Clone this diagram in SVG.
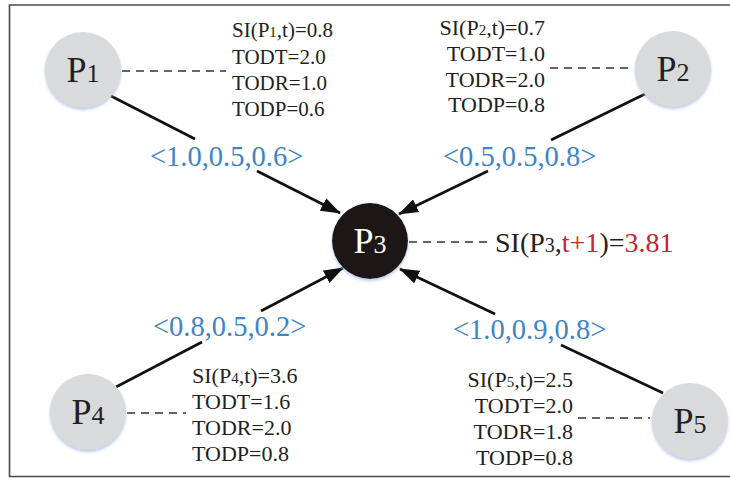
<svg xmlns="http://www.w3.org/2000/svg" width="730" height="479" viewBox="0 0 730 479">
<defs>
<style>
.node{fill:#d9dadc;filter:url(#sh);}
.dark{fill:#1a1718;filter:url(#sh);}
.nl{font-family:"Liberation Serif","Times New Roman",serif;font-size:36px;fill:#231f20;text-anchor:middle;}
.nl tspan{font-size:26px;}
.info{font-family:"Liberation Serif","Times New Roman",serif;font-size:22px;fill:#231f20;}
.info tspan.s{font-size:15px;}
.i1{font-size:21px;}
.el{font-family:"Liberation Serif","Times New Roman",serif;font-size:28.5px;fill:#3d85c6;}
.res{font-family:"Liberation Serif","Times New Roman",serif;font-size:28px;fill:#231f20;}
.red{fill:#c1272d;}
.edge{stroke:#111;stroke-width:2.6;fill:none;}
.dash{stroke:#333;stroke-width:1.3;stroke-dasharray:8 6;fill:none;}
</style>
<filter id="sh" x="-20%" y="-20%" width="140%" height="150%">
<feDropShadow dx="0" dy="2" stdDeviation="1.5" flood-color="#9ab6de" flood-opacity="0.7"/>
</filter>
<marker id="arr" viewBox="0 0 20 14" refX="19" refY="7" markerWidth="20" markerHeight="14" markerUnits="userSpaceOnUse" orient="auto">
<path d="M0,0 L20,7 L0,14 Z" fill="#111"/>
</marker>
</defs>
<rect width="730" height="479" fill="#ffffff"/>
<path d="M740,5 H9.5 V476.5 H740" fill="none" stroke="#4a4a4a" stroke-width="1.6"/>

<g id="connectors">
<line class="edge" x1="111" y1="96" x2="195" y2="139"/>
<line class="edge" x1="257" y1="171" x2="340" y2="213" marker-end="url(#arr)"/>
<line class="edge" x1="647" y1="93" x2="551" y2="140"/>
<line class="edge" x1="488" y1="171" x2="399" y2="214" marker-end="url(#arr)"/>
<line class="edge" x1="116" y1="387" x2="202" y2="342"/>
<line class="edge" x1="261" y1="311" x2="343" y2="268" marker-end="url(#arr)"/>
<line class="edge" x1="663" y1="393" x2="561" y2="345"/>
<line class="edge" x1="495" y1="314" x2="400" y2="269" marker-end="url(#arr)"/>
<line class="dash" x1="122" y1="71" x2="226" y2="71"/>
<line class="dash" x1="550" y1="68" x2="632" y2="68"/>
<line class="dash" x1="409" y1="242" x2="487" y2="242"/>
<line class="dash" x1="127" y1="413" x2="186" y2="413"/>
<line class="dash" x1="578" y1="418" x2="650" y2="418"/>
</g>

<g id="edge-labels">
<text class="el" x="150" y="166">&lt;1.0,0.5,0.6&gt;</text>
<text class="el" x="443" y="166">&lt;0.5,0.5,0.8&gt;</text>
<text class="el" x="153" y="336">&lt;0.8,0.5,0.2&gt;</text>
<text class="el" x="453" y="339">&lt;1.0,0.9,0.8&gt;</text>
</g>

<g id="P1">
<circle class="node" cx="83" cy="70" r="38"/>
<text class="nl" x="83" y="82">P<tspan>1</tspan></text>
<text class="info i1" x="232" y="37">SI(P<tspan class="s">1</tspan>,t)=0.8</text>
<text class="info i1" x="232" y="64">TODT=2.0</text>
<text class="info i1" x="232" y="90">TODR=1.0</text>
<text class="info i1" x="232" y="116">TODP=0.6</text>
</g>

<g id="P2">
<circle class="node" cx="673" cy="69" r="38"/>
<text class="nl" x="673" y="81">P<tspan>2</tspan></text>
<g text-anchor="end">
<text class="info" x="545" y="35">SI(P<tspan class="s">2</tspan>,t)=0.7</text>
<text class="info" x="545" y="61">TODT=1.0</text>
<text class="info" x="545" y="87">TODR=2.0</text>
<text class="info" x="545" y="112">TODP=0.8</text>
</g>
</g>

<g id="P3">
<circle class="dark" cx="370" cy="241" r="38"/>
<text class="nl" x="370" y="253" style="fill:#ffffff">P<tspan>3</tspan></text>
<text class="res" x="495" y="252">SI(P<tspan font-size="20">3</tspan>,<tspan class="red">t+1</tspan>)=<tspan class="red">3.81</tspan></text>
</g>

<g id="P4">
<circle class="node" cx="88" cy="412" r="38"/>
<text class="nl" x="88" y="424">P<tspan>4</tspan></text>
<text class="info" x="192" y="383">SI(P<tspan class="s">4</tspan>,t)=3.6</text>
<text class="info" x="192" y="409">TODT=1.6</text>
<text class="info" x="192" y="435">TODR=2.0</text>
<text class="info" x="192" y="461">TODP=0.8</text>
</g>

<g id="P5">
<circle class="node" cx="690" cy="421" r="38"/>
<text class="nl" x="690" y="433">P<tspan>5</tspan></text>
<g text-anchor="end">
<text class="info" x="573" y="387">SI(P<tspan class="s">5</tspan>,t)=2.5</text>
<text class="info" x="573" y="413">TODT=2.0</text>
<text class="info" x="573" y="439">TODR=1.8</text>
<text class="info" x="573" y="465">TODP=0.8</text>
</g>
</g>
</svg>
